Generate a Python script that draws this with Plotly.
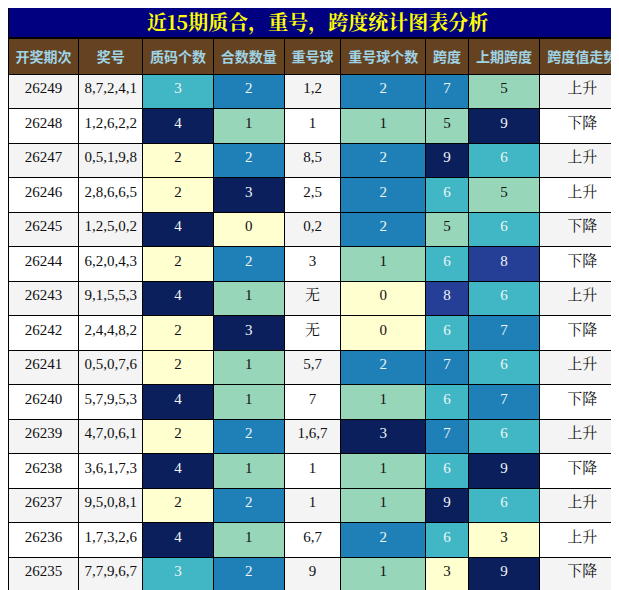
import plotly.graph_objects as go

periods = ["26249", "26248", "26247", "26246", "26245", "26244", "26243", "26242",
           "26241", "26240", "26239", "26238", "26237", "26236", "26235"]
numbers = ["8,7,2,4,1", "1,2,6,2,2", "0,5,1,9,8", "2,8,6,6,5", "1,2,5,0,2", "6,2,0,4,3",
           "9,1,5,5,3", "2,4,4,8,2", "0,5,0,7,6", "5,7,9,5,3", "4,7,0,6,1", "3,6,1,7,3",
           "9,5,0,8,1", "1,7,3,2,6", "7,7,9,6,7"]
prime_count = [3, 4, 2, 2, 4, 2, 4, 2, 2, 4, 2, 4, 2, 4, 3]
composite_count = [2, 1, 2, 3, 0, 2, 1, 3, 1, 1, 2, 1, 2, 1, 2]
repeat_balls = ["1,2", "1", "8,5", "2,5", "0,2", "3", "无", "无", "5,7", "7", "1,6,7", "1", "1", "6,7", "9"]
repeat_count = [2, 1, 2, 2, 2, 1, 0, 0, 2, 1, 3, 1, 1, 2, 1]
span = [7, 5, 9, 6, 5, 6, 8, 6, 7, 6, 7, 6, 9, 6, 3]
prev_span = [5, 9, 6, 5, 6, 8, 6, 7, 6, 7, 6, 9, 6, 3, 9]
trend = ["上升", "下降", "上升", "上升", "下降", "下降", "上升", "下降",
         "上升", "下降", "上升", "下降", "上升", "上升", "下降"]
headers = ["<b>开奖期次</b>", "<b>奖号</b>", "<b>质码个数</b>", "<b>合数数量</b>", "<b>重号球</b>",
           "<b>重号球个数</b>", "<b>跨度</b>", "<b>上期跨度</b>", "<b>跨度值走势</b>"]

YELLOW, GREEN, TEAL, BLUE, INDIGO, NAVY = "#ffffd0", "#98d6b9", "#41b6c4", "#1f80b8", "#253e96", "#0b1f5c"
light_text, dark_text = "#eef6f6", "#111111"

small_map = {0: YELLOW, 1: GREEN, 2: BLUE, 3: NAVY}
prime_map = {2: YELLOW, 3: TEAL, 4: NAVY}
span_map = {3: YELLOW, 5: GREEN, 6: TEAL, 7: BLUE, 8: INDIGO, 9: NAVY}

def fills(vals, cmap):
    return [cmap[v] for v in vals]

def fonts(cols):
    return [dark_text if c in (YELLOW, GREEN) else light_text for c in cols]

plain = ["#f4f4f4" if i % 2 == 0 else "#ffffff" for i in range(len(periods))]
c_prime = fills(prime_count, prime_map)
c_comp = fills(composite_count, small_map)
c_rep = fills(repeat_count, small_map)
c_span = fills(span, span_map)
c_prev = fills(prev_span, span_map)
dark = [dark_text] * len(periods)

fig = go.Figure(go.Table(
    domain=dict(x=[0, 0.998], y=[0, 1]),
    columnwidth=[71, 64, 71, 71, 57, 85, 43, 71, 86],
    header=dict(
        values=headers,
        fill_color="#654321",
        line_color="#000000",
        font=dict(family="Noto Sans CJK SC", size=14, color="#9fd3e6"),
        align="center",
        height=35,
    ),
    cells=dict(
        values=[periods, numbers, prime_count, composite_count, repeat_balls,
                repeat_count, span, prev_span, trend],
        fill_color=[plain, plain, c_prime, c_comp, plain, c_rep, c_span, c_prev, plain],
        line_color="#000000",
        font=dict(family="Liberation Serif, Noto Serif CJK SC, serif", size=15,
                  color=[dark, dark, fonts(c_prime), fonts(c_comp), dark,
                         fonts(c_rep), fonts(c_span), fonts(c_prev), dark]),
        align="center",
        height=34.5,
    ),
))

fig.update_layout(
    width=619,
    height=590,
    margin=dict(l=0, r=0, t=30, b=0),
    paper_bgcolor="#ffffff",
    shapes=[dict(type="rect", xref="paper", yref="paper", x0=0, x1=1, y0=1, y1=1.058,
                 fillcolor="#000080", line=dict(color="#000000", width=2))],
    annotations=[dict(text="<b>近15期质合，重号，跨度统计图表分析</b>", xref="paper", yref="paper",
                      x=0.5, y=1.029, showarrow=False, yanchor="middle",
                      font=dict(family="Noto Serif CJK SC, Noto Sans CJK SC", size=20, color="#ffff00"))],
)

fig.write_html("out.html")
